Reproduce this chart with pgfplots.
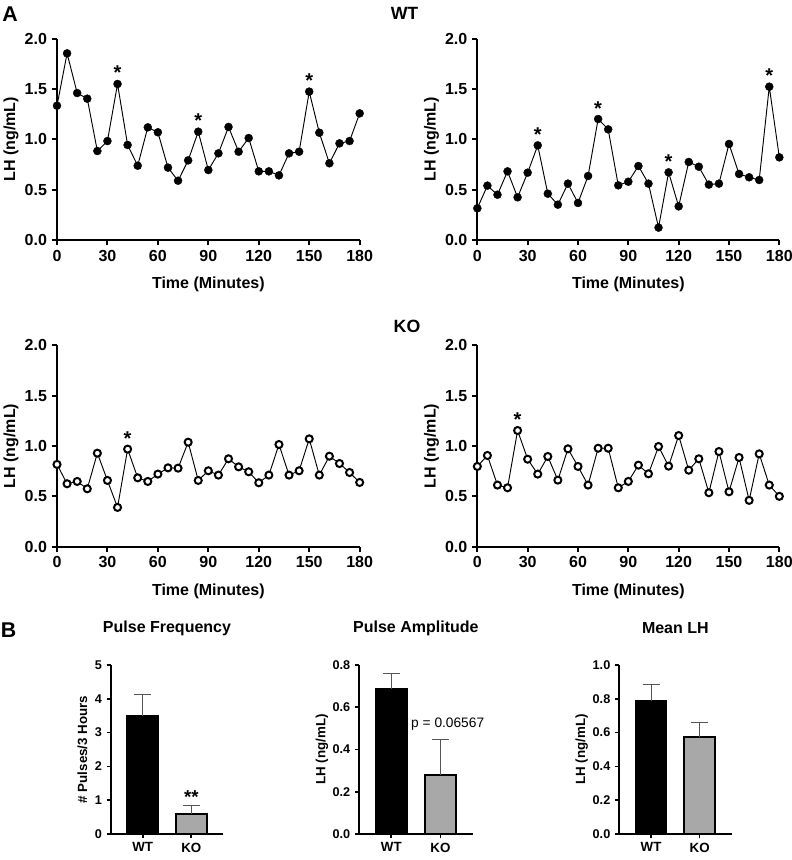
\documentclass[border=0pt]{standalone}
\usepackage{fontspec}
\setmainfont{Liberation Sans}
\usepackage{pgfplots}
\usepackage{pgfplotstable}
\pgfplotsset{compat=1.18}

% LH every 6 min, two WT and two KO animals
\pgfplotstableread{
t   wta   wtb   koa   kob
0   1.334 0.315 0.817 0.797
6   1.854 0.540 0.625 0.906
12  1.460 0.450 0.648 0.612
18  1.404 0.682 0.575 0.585
24  0.884 0.424 0.929 1.154
30  0.983 0.669 0.658 0.869
36  1.550 0.940 0.390 0.721
42  0.944 0.460 0.969 0.896
48  0.738 0.351 0.684 0.661
54  1.119 0.560 0.648 0.972
60  1.070 0.368 0.721 0.797
66  0.719 0.636 0.783 0.612
72  0.589 1.202 0.780 0.978
78  0.791 1.099 1.038 0.978
84  1.076 0.543 0.658 0.585
90  0.695 0.579 0.754 0.648
96  0.861 0.735 0.711 0.810
102 1.123 0.560 0.873 0.724
108 0.877 0.123 0.793 0.995
114 1.013 0.672 0.744 0.800
120 0.682 0.334 0.635 1.104
126 0.682 0.775 0.711 0.760
132 0.642 0.728 1.015 0.873
138 0.861 0.550 0.711 0.536
144 0.877 0.560 0.754 0.945
150 1.474 0.954 1.071 0.545
156 1.066 0.656 0.711 0.886
162 0.762 0.623 0.899 0.460
168 0.960 0.596 0.826 0.922
174 0.983 1.523 0.737 0.612
180 1.258 0.821 0.638 0.500
}\lhdata

\definecolor{KOgray}{RGB}{168,168,168}
\definecolor{ErrGray}{RGB}{85,85,85}

\pgfplotsset{
  lhpanel/.style={
    scale only axis, width=227pt, height=151pt,
    xmin=0, xmax=180, ymin=0, ymax=2,
    axis lines*=left, axis line style={line width=1.5pt, -},
    tick align=outside, major tick length=4pt,
    tick style={line width=1.5pt, black},
    xtick={0,30,...,180}, ytick={0,0.5,1,1.5,2},
    y tick label style={/pgf/number format/.cd, fixed, fixed zerofill, precision=1, /tikz/.cd},
    /pgf/number format/assume math mode=true,
    tick label style={font=\fontsize{12}{14}\selectfont\bfseries},
    xlabel={Time (Minutes)}, ylabel={LH (ng/mL)},
    label style={font=\fontsize{12}{14}\selectfont\bfseries},
    xlabel style={at={(axis description cs:0.5,-0.22)}, anchor=center},
    ylabel style={at={(axis description cs:-0.152,0.5)}, anchor=center},
    clip=false,
  },
  wtline/.style={black, line width=0.7pt, mark=*, mark size=3pt,
    mark options={fill=black, draw=black, line width=0.3pt}},
  kodots/.style={only marks, mark=*, mark size=2.65pt,
    mark options={fill=white, draw=black, line width=1.5pt}},
  koline/.style={black, line width=0.7pt, no marks},
  barpanel/.style={
    scale only axis, width=84.5pt, height=126.75pt,
    xmin=0.34, xmax=2.66, ymin=0,
    axis lines*=left, axis line style={line width=1.3pt, -},
    tick align=outside, major tick length=3pt,
    tick style={line width=1.3pt, black},
    xtick={1,2}, xticklabels={WT,KO},
    /pgf/number format/assume math mode=true,
    x tick label style={font=\fontsize{10}{11}\selectfont\bfseries},
    y tick label style={font=\fontsize{9.5}{10}\selectfont\bfseries},
    label style={font=\fontsize{10}{12}\selectfont\bfseries},
    title style={font=\fontsize{12}{14}\selectfont\bfseries,
      at={(axis description cs:0.5,1.172)}, anchor=center},
    clip=false,
  },
  wtbar/.style={ybar, bar shift=0pt, bar width=22.9pt, fill=black, draw=black,
    line width=1.5pt,
    error bars/.cd, y dir=plus, y explicit,
    error bar style={ErrGray, line width=0.8pt},
    error mark options={rotate=90, ErrGray, mark size=6.4pt, line width=0.8pt}},
  kobar/.style={ybar, bar shift=0pt, bar width=22.9pt, fill=KOgray, draw=black,
    line width=1.5pt,
    error bars/.cd, y dir=plus, y explicit,
    error bar style={ErrGray, line width=0.8pt},
    error mark options={rotate=90, ErrGray, mark size=6.4pt, line width=0.8pt}},
}
\tikzset{
  star/.style={anchor=base, inner sep=0pt, yshift=3pt,
    font=\fontsize{15}{15}\selectfont\bfseries},
}

\begin{document}
\begin{tikzpicture}
\path[use as bounding box] (0,0) rectangle (594pt,-645pt);

\node[font=\fontsize{16}{16}\selectfont\bfseries] at (7.5pt,-10.9pt) {A};
\node[font=\fontsize{13.3}{14}\selectfont\bfseries] at (303.4pt,-9.75pt) {WT};
\node[font=\fontsize{13.3}{14}\selectfont\bfseries] at (305.25pt,-244.5pt) {KO};
\node[font=\fontsize{16}{16}\selectfont\bfseries] at (6.4pt,-472.5pt) {B};

% WT animal 1
\begin{axis}[lhpanel, at={(42.75pt,-180pt)}, anchor=south west]
\addplot[wtline] table[x=t, y=wta] {\lhdata};
\node[star] at (axis cs:36,1.550) {*};
\node[star] at (axis cs:84,1.076) {*};
\node[star] at (axis cs:150,1.474) {*};
\end{axis}

% WT animal 2
\begin{axis}[lhpanel, width=226.5pt, at={(358pt,-180pt)}, anchor=south west]
\addplot[wtline] table[x=t, y=wtb] {\lhdata};
\node[star] at (axis cs:36,0.940) {*};
\node[star] at (axis cs:72,1.202) {*};
\node[star] at (axis cs:114,0.672) {*};
\node[star] at (axis cs:174,1.523) {*};
\end{axis}

% KO animal 1
\begin{axis}[lhpanel, at={(42.75pt,-410pt)}, anchor=south west]
\addplot[kodots] table[x=t, y=koa] {\lhdata};
\addplot[koline] table[x=t, y=koa] {\lhdata};
\node[star] at (axis cs:42,0.969) {*};
\end{axis}

% KO animal 2
\begin{axis}[lhpanel, width=226.5pt, at={(358pt,-410pt)}, anchor=south west]
\addplot[kodots] table[x=t, y=kob] {\lhdata};
\addplot[koline] table[x=t, y=kob] {\lhdata};
\node[star] at (axis cs:24,1.154) {*};
\end{axis}

% Pulse frequency
\begin{axis}[barpanel, at={(83pt,-625.5pt)}, anchor=south west,
  ymax=5, ytick={0,1,...,5},
  ylabel={\# Pulses/3 Hours},
  ylabel style={at={(axis description cs:-0.25,0.5)}, anchor=center},
  title={Pulse Frequency}]
\addplot[wtbar] coordinates {(1,3.49) +- (0,0.64)};
\addplot[kobar] coordinates {(2,0.58) +- (0,0.25)};
\node[anchor=base, inner sep=0pt, yshift=1.5pt,
  font=\fontsize{14}{14}\selectfont\bfseries] at (axis cs:2,0.83) {**};
\end{axis}

% Pulse amplitude
\begin{axis}[barpanel, width=85.3pt, at={(269.25pt,-625.5pt)}, anchor=south west,
  ymax=0.8, ytick={0,0.2,...,0.8},
  y tick label style={/pgf/number format/.cd, fixed, fixed zerofill, precision=1, /tikz/.cd},
  ylabel={LH (ng/mL)},
  ylabel style={at={(axis description cs:-0.325,0.5)}, anchor=center},
  title={Pulse Amplitude}]
\addplot[wtbar] coordinates {(1,0.688) +- (0,0.073)};
\addplot[kobar] coordinates {(2,0.279) +- (0,0.168)};
\node[anchor=west, inner sep=0pt, font=\fontsize{10.3}{12}\selectfont]
  at (axis cs:1.40,0.521) {p = 0.06567};
\end{axis}

% Mean LH
\begin{axis}[barpanel, at={(464.25pt,-625.5pt)}, anchor=south west,
  ymax=1, ytick={0,0.2,...,1},
  y tick label style={/pgf/number format/.cd, fixed, fixed zerofill, precision=1, /tikz/.cd},
  ylabel={LH (ng/mL)},
  ylabel style={at={(axis description cs:-0.33,0.5)}, anchor=center},
  title={Mean LH}]
\addplot[wtbar] coordinates {(1,0.787) +- (0,0.095)};
\addplot[kobar] coordinates {(2,0.573) +- (0,0.088)};
\end{axis}
\end{tikzpicture}
\end{document}
